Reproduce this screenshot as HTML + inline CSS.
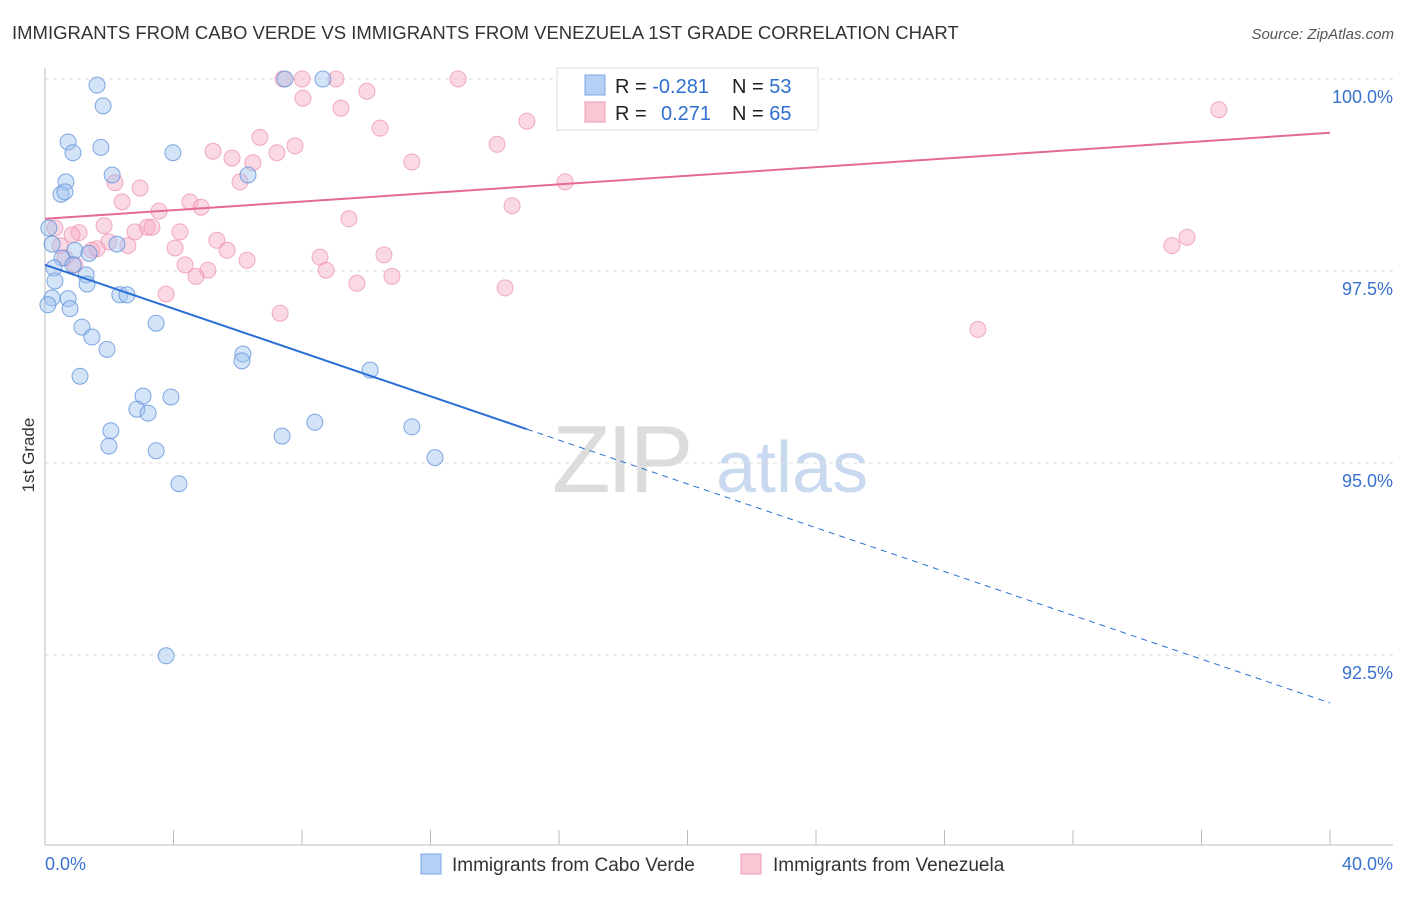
<!DOCTYPE html>
<html><head><meta charset="utf-8">
<style>
body{margin:0;background:#fff;font-family:"Liberation Sans",sans-serif;}
svg text{font-family:"Liberation Sans",sans-serif;}
</style></head>
<body>
<svg id="chart" width="1406" height="892" xmlns="http://www.w3.org/2000/svg">
<text x="12" y="39" font-size="18.5" fill="#333">IMMIGRANTS FROM CABO VERDE VS IMMIGRANTS FROM VENEZUELA 1ST GRADE CORRELATION CHART</text>
<text x="1394" y="39" font-size="15" fill="#555" text-anchor="end" font-style="italic">Source: ZipAtlas.com</text>
<text transform="translate(34,455) rotate(-90)" font-size="17" fill="#333" text-anchor="middle">1st Grade</text>
<g>
<text x="552" y="492" font-size="96" fill="#dcdcdc" font-family="Liberation Serif" letter-spacing="-4">ZIP</text>
<text x="716" y="492" font-size="72" fill="#c9d9ef">atlas</text>
</g>
<g id="grid"></g>
<g id="axes"></g>
<g id="pts"></g>
<g id="lines"></g>
<g>
<rect x="557" y="68" width="261" height="62" fill="#fff" stroke="#ddd"/>
<rect x="585" y="75" width="20" height="20" fill="#b5cff5" stroke="#7aa7e6"/>
<rect x="585" y="102" width="20" height="20" fill="#f9c6d4" stroke="#f09ab3"/>
<text x="615" y="93" font-size="20" fill="#222">R = <tspan fill="#2f6fd0">-0.281</tspan></text>
<text x="732" y="93" font-size="20" fill="#222">N = <tspan fill="#2f6fd0">53</tspan></text>
<text x="615" y="120" font-size="20" fill="#222">R = <tspan fill="#2f6fd0" x="661">0.271</tspan></text>
<text x="732" y="120" font-size="20" fill="#222">N = <tspan fill="#2f6fd0">65</tspan></text>
</g>
<g>
<rect x="421" y="854" width="20" height="20" fill="#b5cff5" stroke="#7aa7e6"/>
<text x="452" y="871" font-size="19" fill="#333">Immigrants from Cabo Verde</text>
<rect x="741" y="854" width="20" height="20" fill="#f9c6d4" stroke="#f09ab3"/>
<text x="773" y="871" font-size="19" fill="#333">Immigrants from Venezuela</text>
</g>
</svg>
<script>
const blueX=[1.62,1.81,7.47,8.65,0.72,0.87,1.74,3.98,2.09,0.65,0.5,0.62,6.32,0.12,0.22,0.93,2.24,0.53,1.37,0.28,0.87,1.28,0.31,1.31,0.22,0.72,2.33,2.55,0.09,0.78,1.15,3.46,1.46,1.93,6.16,6.13,1.09,10.12,3.05,3.92,2.86,3.21,8.4,2.05,11.42,7.38,1.99,3.46,12.14,4.17,3.77];
const blueY=[99.92,99.65,100,100,99.18,99.04,99.11,99.04,98.75,98.66,98.5,98.53,98.75,98.06,97.85,97.77,97.85,97.67,97.73,97.54,97.58,97.45,97.37,97.33,97.15,97.14,97.19,97.19,97.06,97.01,96.77,96.82,96.64,96.48,96.42,96.33,96.13,96.21,95.87,95.86,95.7,95.65,95.53,95.42,95.47,95.35,95.22,95.16,95.07,94.73,92.49];
const pinkX=[7.41,8.0,9.06,12.86,21.29,8.03,9.21,10.02,10.43,36.54,15.0,6.69,5.23,5.82,6.47,7.22,7.78,11.42,14.07,16.19,6.07,2.18,2.96,2.4,4.51,4.86,3.55,14.54,9.46,0.31,1.84,3.18,3.33,4.2,2.8,1.06,0.84,5.35,0.47,1.99,1.46,1.62,2.58,4.05,5.67,6.29,8.56,10.55,35.08,35.55,0.93,4.36,5.07,4.7,8.75,10.8,9.71,14.32,3.77,7.32,29.04,0.62];
const pinkY=[100,100,100,100,100,99.75,99.62,99.84,99.36,99.6,99.45,99.24,99.06,98.97,98.91,99.04,99.13,98.92,99.15,98.66,98.66,98.65,98.58,98.4,98.4,98.33,98.28,98.35,98.18,98.06,98.09,98.07,98.07,98.01,98.01,98.0,97.97,97.9,97.83,97.88,97.77,97.79,97.83,97.8,97.77,97.64,97.68,97.71,97.83,97.94,97.58,97.58,97.51,97.43,97.51,97.43,97.34,97.28,97.2,96.95,96.74,97.67];
const blueTrend=[97.58,91.875];
const pinkTrend=[98.18,99.30];
const yTicks=[100,97.5,95,92.5];
const yTickLabels=["100.0%","97.5%","95.0%","92.5%"];
const xScale=v=>45+v*1285/40;
const yScale=v=>79+(100-v)*76.8;
const NS="http://www.w3.org/2000/svg";
function mk(tag,attrs,parent){const e=document.createElementNS(NS,tag);for(const k in attrs)e.setAttribute(k,attrs[k]);parent.appendChild(e);return e;}
const grid=document.getElementById('grid'),axes=document.getElementById('axes'),pts=document.getElementById('pts'),lines=document.getElementById('lines');
yTicks.forEach((t,i)=>{
 const g=mk('line',{x1:45,x2:1393,y1:yScale(t),y2:yScale(t),stroke:'#ddd','stroke-dasharray':'4,4'},grid);
 
 
 const l=mk('text',{x:1393,y:yScale(t)+24,'font-size':18,fill:'#3a72d0','text-anchor':'end'},grid);
 l.textContent=yTickLabels[i];
 
 
});
const ya=mk('line',{x1:45,x2:45,y1:68,y2:845,stroke:'#bbb'},axes);


const xa=mk('line',{x1:45,x2:1393,y1:845,y2:845,stroke:'#bbb'},axes);


for(let i=0;i<=10;i++){
 const t=mk('line',{x1:xScale(i*4),x2:xScale(i*4),y1:830,y2:845,stroke:'#bbb'},axes);
 
 
}
const x0=mk('text',{x:45,y:870,'font-size':18,fill:'#3a72d0'},axes);x0.textContent='0.0%';


const x1=mk('text',{x:1393,y:870,'font-size':18,fill:'#3a72d0','text-anchor':'end'},axes);x1.textContent='40.0%';


pinkX.forEach((x,i)=>{
 const c=mk('circle',{cx:xScale(x),cy:yScale(pinkY[i]),r:8,fill:'rgba(246,170,195,0.45)',stroke:'rgba(236,140,170,0.7)'},pts);
 
 
});
blueX.forEach((x,i)=>{
 const c=mk('circle',{cx:xScale(x),cy:yScale(blueY[i]),r:8,fill:'rgba(160,195,240,0.45)',stroke:'rgba(90,140,215,0.75)'},pts);
 
 
});
const bv=x=>blueTrend[0]+(blueTrend[1]-blueTrend[0])*x/40;
const b1=mk('line',{x1:xScale(0),y1:yScale(bv(0)),x2:xScale(15),y2:yScale(bv(15)),stroke:'#2a6fd6','stroke-width':2},lines);


const b2=mk('line',{x1:xScale(15),y1:yScale(bv(15)),x2:xScale(40),y2:yScale(bv(40)),stroke:'#2a6fd6','stroke-width':1,'stroke-dasharray':'6,5'},lines);


const p1=mk('line',{x1:xScale(0),y1:yScale(pinkTrend[0]),x2:xScale(40),y2:yScale(pinkTrend[1]),stroke:'#e46a93','stroke-width':2},lines);


</script>
</body></html>
